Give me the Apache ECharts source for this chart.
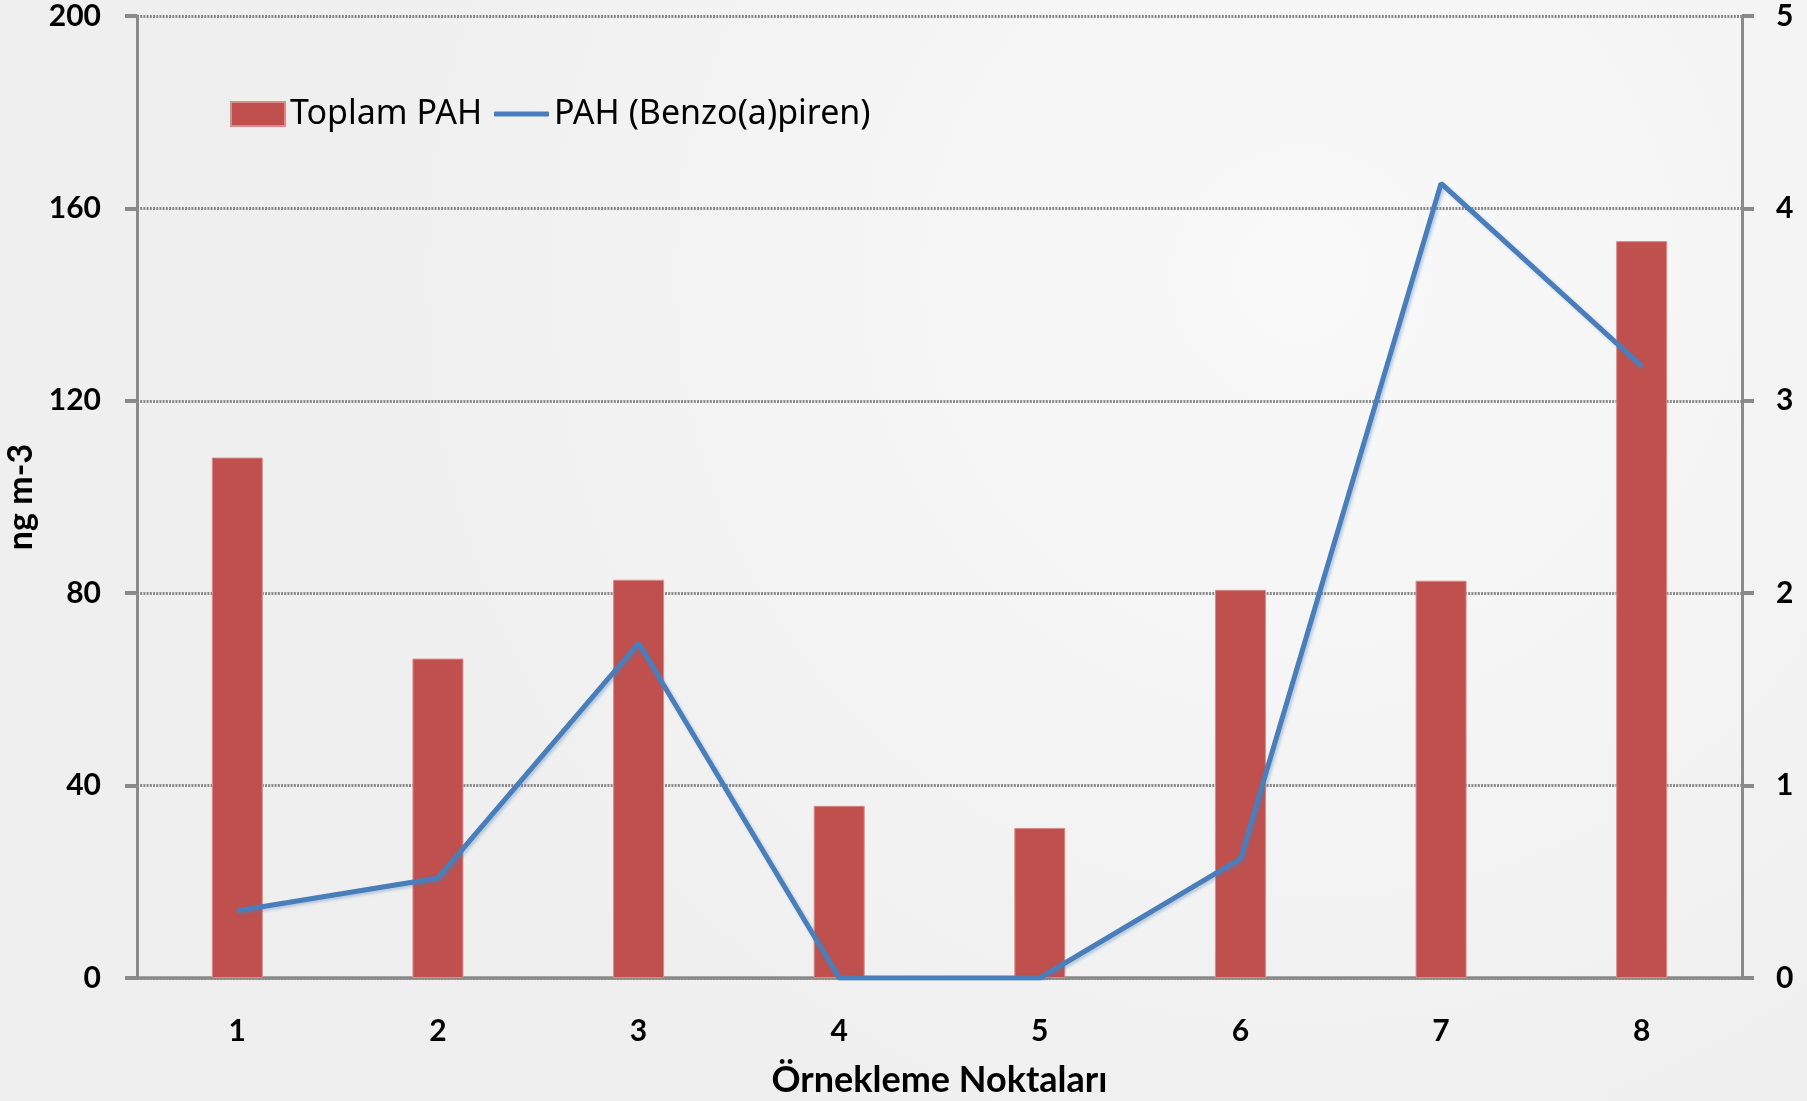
<!DOCTYPE html>
<html>
<head>
<meta charset="utf-8">
<script src="https://cdn.jsdelivr.net/npm/echarts@6/dist/echarts.min.js"></script>
<style>
  html, body { margin: 0; padding: 0; background: #f2f2f2; }
  #chart { width: 1807px; height: 1101px; }
</style>
</head>
<body>
<div id="chart"></div>
<script>
// Sampling points along the x axis
const categories = ['1', '2', '3', '4', '5', '6', '7', '8'];
// Total PAH concentration (left axis, ng m-3)
const toplamPAH = [108.2, 66.4, 82.8, 35.8, 31.2, 80.7, 82.6, 153.2];
// Benzo(a)pyrene concentration (right axis, ng m-3)
const benzoPiren = [0.35, 0.52, 1.74, 0, 0, 0.62, 4.13, 3.18];

const seriesNames = ['Toplam PAH', 'PAH (Benzo(a)piren)'];
const leftAxisRange = { min: 0, max: 200, interval: 40 };
const rightAxisRange = { min: 0, max: 5, interval: 1 };

const axisGray = '#8a8a8a';
const barColor = '#C0504D';
const lineColor = '#4A7EBB';
const labelFont = { fontFamily: 'Lato', fontWeight: 'bold', fontSize: 30, color: '#000' };
const legendText = { fontFamily: 'Noto Sans', fontSize: 34, color: '#000' };

const chart = echarts.init(document.getElementById('chart'), null, { renderer: 'canvas' });

chart.setOption({
  animation: false,
  backgroundColor: {
    type: 'radial', x: 0.72, y: 0.25, r: 0.9,
    colorStops: [
      { offset: 0, color: '#f9f9f9' },
      { offset: 0.6, color: '#f3f3f3' },
      { offset: 1, color: '#efefef' }
    ]
  },
  grid: { left: 137, right: 65, top: 16, bottom: 123, containLabel: false, outerBoundsMode: 'none' },
  legend: [
    {
      left: 230,
      top: 97,
      padding: 0,
      itemWidth: 54,
      itemHeight: 24,
      textStyle: legendText,
      data: [{ name: seriesNames[0], icon: 'rect' }]
    },
    {
      left: 494,
      top: 97,
      padding: 0,
      itemWidth: 55,
      itemHeight: 5,
      textStyle: legendText,
      data: [{ name: seriesNames[1], icon: 'roundRect' }]
    }
  ],
  xAxis: {
    type: 'category',
    data: categories,
    name: 'Örnekleme Noktaları',
    nameLocation: 'middle',
    nameGap: 84,
    nameTextStyle: Object.assign({}, labelFont, { fontSize: 36 }),
    axisLine: { lineStyle: { color: axisGray, width: 3.5 } },
    axisTick: { show: false },
    axisLabel: Object.assign({}, labelFont, { margin: 38 })
  },
  yAxis: [
    {
      type: 'value',
      min: leftAxisRange.min, max: leftAxisRange.max, interval: leftAxisRange.interval,
      name: 'ng m-3',
      nameLocation: 'middle',
      nameGap: 95,
      nameTextStyle: Object.assign({}, labelFont, { fontSize: 34 }),
      axisLine: { show: true, lineStyle: { color: axisGray, width: 3 } },
      axisTick: { show: true, length: 12, lineStyle: { color: axisGray, width: 4 } },
      axisLabel: Object.assign({}, labelFont, { margin: 36 }),
      splitLine: { lineStyle: { color: axisGray, width: 3, type: [2, 1.2] } }
    },
    {
      type: 'value',
      position: 'right',
      min: rightAxisRange.min, max: rightAxisRange.max, interval: rightAxisRange.interval,
      axisLine: { show: true, lineStyle: { color: axisGray, width: 3 } },
      axisTick: { show: true, length: 12, lineStyle: { color: axisGray, width: 4 } },
      axisLabel: Object.assign({}, labelFont, { margin: 34 }),
      splitLine: { show: false }
    }
  ],
  series: [
    {
      name: seriesNames[0],
      type: 'bar',
      yAxisIndex: 0,
      barWidth: 51,
      data: toplamPAH,
      itemStyle: { color: barColor, borderColor: '#d98c8a', borderWidth: 1 }
    },
    {
      name: seriesNames[1],
      type: 'line',
      yAxisIndex: 1,
      data: benzoPiren,
      symbol: 'none',
      lineStyle: { color: lineColor, width: 5, shadowColor: 'rgba(74,126,187,0.35)', shadowBlur: 3, shadowOffsetX: 2, shadowOffsetY: 2 },
      itemStyle: { color: lineColor },
      z: 3
    }
  ]
});
</script>
</body>
</html>
